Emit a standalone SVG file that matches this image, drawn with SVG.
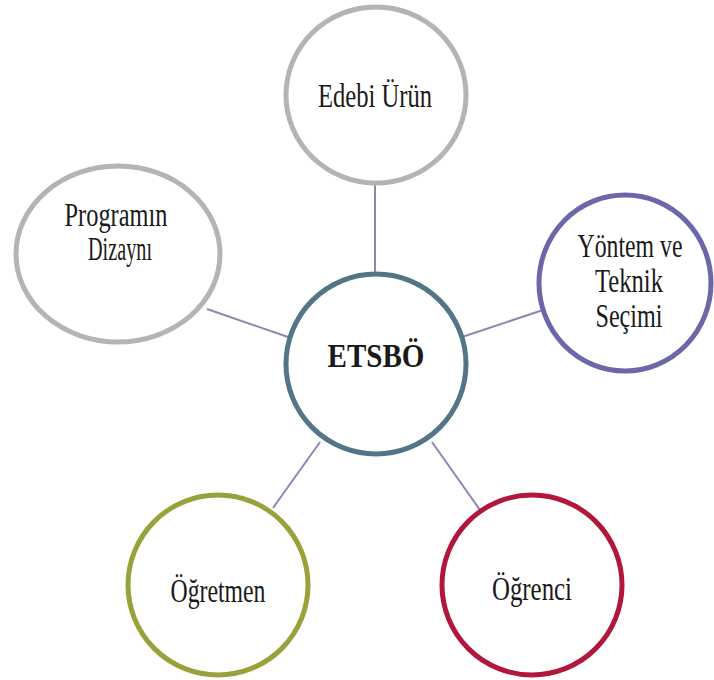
<svg xmlns="http://www.w3.org/2000/svg" width="714" height="680" viewBox="0 0 714 680">
<style>
.node{fill:#ffffff;stroke-width:5}
.lbl{font-family:"Liberation Serif","Times New Roman",serif;font-size:33px;fill:#1a1a1a;text-anchor:middle}
.conn line{stroke:#8a88b0;stroke-width:2}
</style>
<rect width="714" height="680" fill="#ffffff"/>
<g id="connectors" class="conn">
<line x1="375" y1="183" x2="375" y2="273"/>
<line x1="207" y1="309" x2="288" y2="337"/>
<line x1="462" y1="337" x2="543" y2="310"/>
<line x1="320" y1="442" x2="273" y2="508"/>
<line x1="432" y1="442" x2="480" y2="510"/>
</g>
<g id="edebi-urun">
<ellipse class="node" cx="376" cy="95" rx="90" ry="88" stroke="#b4b4b4"/>
<text class="lbl" x="375" y="107" textLength="114" lengthAdjust="spacingAndGlyphs">Edebi Ürün</text>
</g>
<g id="programin-dizayni">
<ellipse class="node" cx="118" cy="254" rx="102" ry="88" stroke="#b4b4b4"/>
<text class="lbl" x="116" y="226" textLength="103" lengthAdjust="spacingAndGlyphs">Programın</text>
<text class="lbl" x="120" y="260" textLength="64" lengthAdjust="spacingAndGlyphs">Dizaynı</text>
</g>
<g id="yontem-teknik">
<ellipse class="node" cx="625" cy="283" rx="86" ry="88" stroke="#6b67a8"/>
<text class="lbl" x="630" y="257" textLength="105" lengthAdjust="spacingAndGlyphs">Yöntem ve</text>
<text class="lbl" x="629" y="292" textLength="68" lengthAdjust="spacingAndGlyphs">Teknik</text>
<text class="lbl" x="629" y="327" textLength="67" lengthAdjust="spacingAndGlyphs">Seçimi</text>
</g>
<g id="etsbo">
<circle class="node" cx="376" cy="364" r="90" stroke="#527688" stroke-width="6"/>
<text class="lbl" x="376" y="367" font-weight="bold" font-size="40" textLength="97" lengthAdjust="spacingAndGlyphs">ETSBÖ</text>
</g>
<g id="ogretmen">
<circle class="node" cx="218" cy="585" r="90" stroke="#99a23a" stroke-width="6"/>
<text class="lbl" x="218" y="602" textLength="95" lengthAdjust="spacingAndGlyphs">Öğretmen</text>
</g>
<g id="ogrenci">
<circle class="node" cx="532" cy="585" r="90" stroke="#b1173b"/>
<text class="lbl" x="532" y="600" textLength="80" lengthAdjust="spacingAndGlyphs">Öğrenci</text>
</g>
</svg>
